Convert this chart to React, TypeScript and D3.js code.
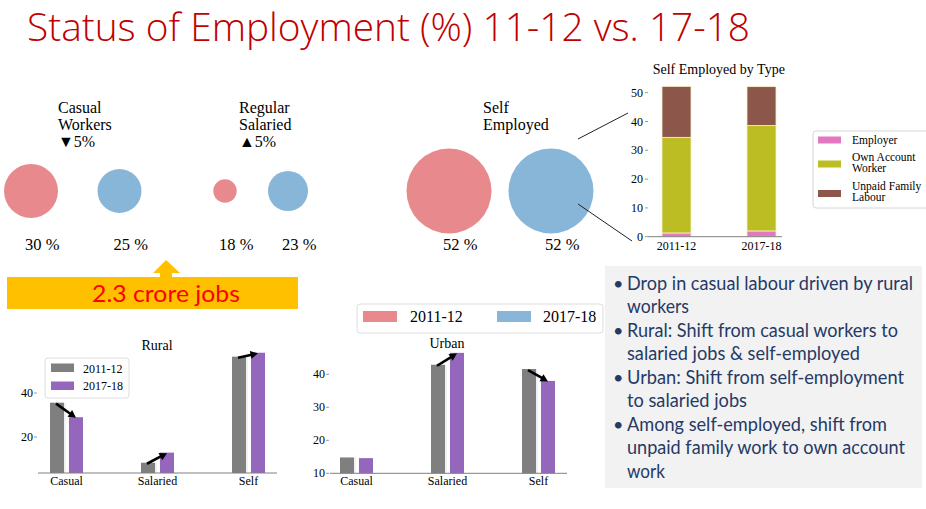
import React from "react";
import * as d3 from "d3";

// ---------- data ----------
const years = ["2011-12", "2017-18"];
const statusCategories = ["Casual Workers", "Regular Salaried", "Self Employed"];
const status2011 = [30, 18, 52];
const status2017 = [25, 23, 52];
const statusChange = ["▼5%", "▲5%", ""];

const selfTypes = ["Employer", "Own Account Worker", "Unpaid Family Labour"];
const selfTypeLegend = [["Employer"], ["Own Account", "Worker"], ["Unpaid Family", "Labour"]];
const employer = [1.3, 2.0];
const ownAccount = [33.2, 36.6];
const unpaidFamily = [17.7, 13.5];

const sectors = ["Casual", "Salaried", "Self"];
const rural2011 = [35.6, 8.3, 56.5];
const rural2017 = [29.0, 12.9, 58.3];
const urban2011 = [14.8, 42.9, 41.6];
const urban2017 = [14.6, 46.5, 38.0];

const titleText = "Status of Employment (%) 11-12 vs. 17-18";
const jobsLabel = "2.3 crore jobs";
const bullets = [
  ["Drop in casual labour driven by rural", "workers"],
  ["Rural: Shift from casual workers to", "salaried jobs & self-employed"],
  ["Urban: Shift from self-employment", "to salaried jobs"],
  ["Among self-employed, shift from", "unpaid family work to own account", "work"],
];

// ---------- styles ----------
const RED = "#e88a8d";
const BLUE = "#88b6d8";
const GRAY = "#7f7f7f";
const PURPLE = "#9467bd";
const TYPE_COLORS = ["#e377c2", "#bcbd22", "#8c564b"];
const SERIF = "'Liberation Serif', 'Times New Roman', serif";
const SANS = "Lato, 'Open Sans', sans-serif";
const AXIS = "#808080";
const NAVY = "#263a66";

// layout of bubble panels
const bubblePanels = [[31, 119.5], [225, 288], [449, 551]];
const headerX = [58, 239, 483];
const bubbleY = 191;
const bulletWidths = [286, 62, 271, 233, 277, 120, 260, 278, 38];

function Arrow({ x1, y1, x2, y2 }: { x1: number; y1: number; x2: number; y2: number }) {
  const dx = x2 - x1, dy = y2 - y1;
  const len = Math.hypot(dx, dy);
  const ux = dx / len, uy = dy / len;
  const hl = 7.5, hw = 4;
  const bx = x2 - ux * hl, by = y2 - uy * hl;
  const px = -uy, py = ux;
  return (
    <g>
      <line x1={x1} y1={y1} x2={bx + ux} y2={by + uy} stroke="#000" strokeWidth={2.6} />
      <polygon
        points={`${x2},${y2} ${bx + px * hw},${by + py * hw} ${bx - px * hw},${by - py * hw}`}
        fill="#000"
      />
    </g>
  );
}

function GroupedBars(props: {
  left: number;
  y: d3.ScaleLinear<number, number>;
  nTicks: number;
  v1: number[];
  v2: number[];
  axisX0: number;
  axisX1: number;
  title: string;
  titleX: number;
  titleY: number;
}) {
  const { left, y, nTicks, v1, v2, axisX0, axisX1, title, titleX, titleY } = props;
  const xBand = d3.scaleBand().domain(sectors).range([left, left + 273]).padding(0);
  const sub = d3.scaleBand().domain(years).range([-16.5, 16.5]).paddingInner(0.26);
  const base = y.range()[0];
  const ticks = y.ticks(nTicks).filter((t) => t >= y.domain()[0]);
  const series = [v1, v2];
  const colors = [GRAY, PURPLE];
  const cx = (cat: string) => (xBand(cat) as number) + xBand.bandwidth() / 2;
  return (
    <g>
      <text x={titleX} y={titleY} textAnchor="middle" fontFamily={SERIF} fontSize={14}>
        {title}
      </text>
      {series.map((vals, si) =>
        sectors.map((cat, ci) => {
          const x = cx(cat) + (sub(years[si]) as number);
          return (
            <g key={`${si}-${ci}`}>
              <rect x={x} y={y(vals[ci])} width={sub.bandwidth()} height={base - y(vals[ci])} fill={colors[si]} />
              {si === 0 && (
                <line
                  x1={x + sub.bandwidth() + 1}
                  x2={x + sub.bandwidth() + 1}
                  y1={y(vals[ci])}
                  y2={base}
                  stroke="#e6e6e6"
                  strokeWidth={1}
                />
              )}
            </g>
          );
        })
      )}
      <line x1={axisX0} x2={axisX1} y1={base} y2={base} stroke={AXIS} strokeWidth={1} />
      {ticks.map((t) => (
        <g key={t}>
          <line x1={axisX0 - 4} x2={axisX0 - 1} y1={y(t)} y2={y(t)} stroke={AXIS} strokeWidth={0.8} />
          <text x={axisX0 - 5} y={y(t) + 4} textAnchor="end" fontFamily={SERIF} fontSize={12}>
            {t}
          </text>
        </g>
      ))}
      {sectors.map((cat) => (
        <text key={cat} x={cx(cat)} y={485} textAnchor="middle" fontFamily={SERIF} fontSize={12}>
          {cat}
        </text>
      ))}
      {sectors.map((cat, ci) => {
        if (Math.abs(v2[ci] - v1[ci]) < 1) return null;
        const x1 = cx(cat) + (sub(years[0]) as number) + sub.bandwidth() / 2;
        const x2 = cx(cat) + (sub(years[1]) as number) + sub.bandwidth() / 2;
        return <Arrow key={cat} x1={x1 - 1} y1={y(v1[ci]) + 1} x2={x2} y2={y(v2[ci]) + 0.5} />;
      })}
    </g>
  );
}

export default function App() {
  // bubble radius scale
  const r = d3.scaleLinear().domain([18, 23, 30, 52]).range([11.7, 20, 27, 42.5]);

  // stacked self-employed chart
  const table = years.map((yr, i) => ({
    year: yr,
    [selfTypes[0]]: employer[i],
    [selfTypes[1]]: ownAccount[i],
    [selfTypes[2]]: unpaidFamily[i],
  }));
  const stacked = d3.stack<any>().keys(selfTypes)(table);
  const yS = d3.scaleLinear().domain([0, 50]).range([236.7, 92.7]);
  const xS = d3.scalePoint().domain(years).range([676.5, 761.5]);
  const barW = 29;

  const yRural = d3.scaleLinear().domain([3.64, 59.5]).range([473, 350.1]);
  const yUrban = d3.scaleLinear().domain([10, 48]).range([473.3, 347.9]);

  let lineIdx = 0;

  return (
    <svg
      width={926}
      height={509}
      style={{ position: "absolute", left: 0, top: 0, background: "#fff" }}
      fontFamily={SERIF}
    >
      <rect x={0} y={0} width={926} height={509} fill="#fff" />
      {/* Title */}
      <text
        x={27}
        y={41}
        fontFamily="'Open Sans', sans-serif"
        fontWeight={300}
        fontSize={38}
        fill="#c00000"
        textLength={723}
        lengthAdjust="spacingAndGlyphs"
      >
        {titleText}
      </text>

      {/* Bubbles */}
      {statusCategories.map((cat, i) => {
        const xp = d3.scalePoint().domain(years).range(bubblePanels[i] as [number, number]);
        const vals = [status2011[i], status2017[i]];
        const words = cat.split(" ");
        const lines = statusChange[i] ? [...words, statusChange[i]] : words;
        return (
          <g key={cat}>
            {lines.map((ln, li) => (
              <text key={li} x={headerX[i]} y={113 + li * 16.8} fontSize={16} fontFamily={SERIF}>
                {ln}
              </text>
            ))}
            {years.map((yr, yi) => (
              <g key={yr}>
                <circle cx={xp(yr)} cy={bubbleY} r={r(vals[yi])} fill={yi === 0 ? RED : BLUE} />
                <text x={(xp(yr) as number) - 6} y={250} fontSize={16.5} fontFamily={SERIF}>
                  {`${vals[yi]} %`}
                </text>
              </g>
            ))}
          </g>
        );
      })}

      {/* connector lines */}
      <line x1={578} y1={139} x2={628} y2={113} stroke="#222" strokeWidth={1} />
      <line x1={578} y1={204} x2={632} y2={241} stroke="#222" strokeWidth={1} />

      {/* Stacked chart */}
      <text x={718.8} y={74} textAnchor="middle" fontFamily={SERIF} fontSize={14}>
        Self Employed by Type
      </text>
      {stacked.map((s, si) =>
        s.map((d, di) => (
          <rect
            key={`${si}-${di}`}
            x={(xS(years[di]) as number) - barW / 2}
            y={yS(d[1])}
            width={barW}
            height={yS(d[0]) - yS(d[1])}
            fill={TYPE_COLORS[si]}
            stroke="#f8f0c8"
            strokeWidth={0.8}
          />
        ))
      )}
      <line x1={648} x2={782} y1={yS(0)} y2={yS(0)} stroke={AXIS} strokeWidth={1} />
      {yS.ticks(5).map((t) => (
        <g key={t}>
          <line x1={645} x2={648} y1={yS(t)} y2={yS(t)} stroke={AXIS} strokeWidth={0.8} />
          <text x={643} y={yS(t) + 4} textAnchor="end" fontSize={12} fontFamily={SERIF}>
            {t}
          </text>
        </g>
      ))}
      {years.map((yr) => (
        <text key={yr} x={xS(yr)} y={250} textAnchor="middle" fontSize={12} fontFamily={SERIF}>
          {yr}
        </text>
      ))}
      {/* stacked legend */}
      <rect x={813} y={131} width={130} height={77} rx={3} fill="#fff" stroke="#d6d6d6" strokeWidth={1} />
      {selfTypeLegend.map((lbl, i) => {
        const c = [140, 164, 193.5][i];
        return (
          <g key={i}>
            <rect x={818} y={c - 3.5} width={23} height={7} fill={TYPE_COLORS[i]} />
            {lbl.map((l, li) => (
              <text
                key={li}
                x={852}
                y={lbl.length === 1 ? c + 4 : c - 3.5 + li * 11}
                fontSize={11.5}
                fontFamily={SERIF}
              >
                {l}
              </text>
            ))}
          </g>
        );
      })}

      {/* Yellow band */}
      <rect x={7} y={277} width={291} height={32} fill="#ffc000" />
      <polygon points="153,273 166,260 180,273 172,273 172,278 160,278 160,273" fill="#ffc000" />
      <text
        x={166}
        y={302}
        textAnchor="middle"
        fontFamily={SANS}
        fontSize={23}
        fill="#ff0000"
        textLength={148}
        lengthAdjust="spacingAndGlyphs"
      >
        {jobsLabel}
      </text>

      {/* Year legend (middle) */}
      <rect x={357} y={304} width={246} height={29} rx={3} fill="#fff" stroke="#dedede" strokeWidth={1} />
      <rect x={363} y={311} width={34} height={11} fill={RED} />
      <text x={410} y={322} fontSize={16} fontFamily={SERIF}>{years[0]}</text>
      <rect x={497} y={311} width={34} height={11} fill={BLUE} />
      <text x={543} y={322} fontSize={16} fontFamily={SERIF}>{years[1]}</text>

      {/* Rural */}
      <GroupedBars
        left={21}
        y={yRural}
        nTicks={3}
        v1={rural2011}
        v2={rural2017}
        axisX0={38}
        axisX1={277}
        title="Rural"
        titleX={157}
        titleY={350}
      />
      <rect x={45} y={358} width={84} height={40} rx={3} fill="#fff" fillOpacity={0.85} stroke="#dedede" strokeWidth={1} />
      <rect x={51} y={363.5} width={23} height={8.5} fill={GRAY} />
      <text x={83} y={373} fontSize={12} fontFamily={SERIF}>{years[0]}</text>
      <rect x={51} y={381.5} width={23} height={8.5} fill={PURPLE} />
      <text x={83} y={390} fontSize={12} fontFamily={SERIF}>{years[1]}</text>

      {/* Urban */}
      <GroupedBars
        left={311}
        y={yUrban}
        nTicks={4}
        v1={urban2011}
        v2={urban2017}
        axisX0={330}
        axisX1={567}
        title="Urban"
        titleX={447}
        titleY={348}
      />

      {/* Text box */}
      <rect x={605} y={266} width={317} height={222} fill="#f2f2f2" />
      {bullets.map((b, bi) =>
        b.map((ln, li) => {
          const idx = lineIdx++;
          const yy = 289.5 + idx * 23.5;
          return (
            <g key={`${bi}-${li}`}>
              {li === 0 && (
                <text x={613} y={yy} fontFamily={SANS} fontSize={18} fill={NAVY}>
                  •
                </text>
              )}
              <text
                x={627}
                y={yy}
                fontFamily={SANS}
                fontSize={18.5}
                fill={NAVY}
                textLength={bulletWidths[idx]}
                lengthAdjust="spacingAndGlyphs"
              >
                {ln}
              </text>
            </g>
          );
        })
      )}
    </svg>
  );
}
